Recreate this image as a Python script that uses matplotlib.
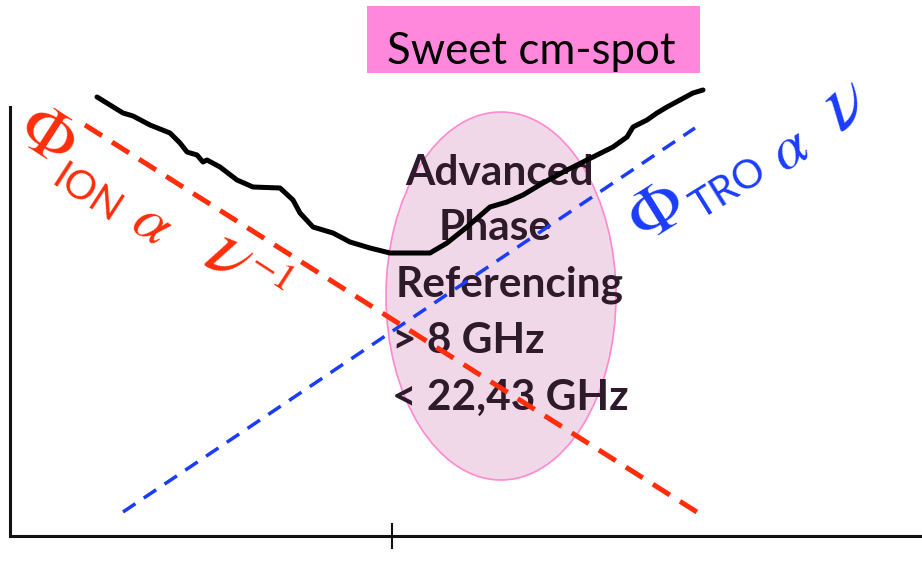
import matplotlib
matplotlib.use("Agg")
import matplotlib.pyplot as plt
from matplotlib.patches import Ellipse, Rectangle

plt.rcParams['mathtext.fontset'] = 'stix'

# ---- data (schematic, in arbitrary units) ----
curve_x = [87, 113, 123, 140, 160, 170, 177, 187, 193, 197, 210, 227, 243, 270, 283,
           290, 303, 323, 340, 360, 380, 420, 437, 457, 480, 497, 513, 533, 557, 577,
           587, 603, 617, 623, 637, 647, 657, 670, 683, 693]
curve_y = [439, 423, 420, 411, 403, 393, 384, 381, 374, 376, 369, 356, 349, 348, 336,
           323, 309, 303, 294, 288, 283, 283, 293, 309, 329, 334, 341, 353, 366, 376,
           381, 389, 399, 409, 416, 423, 429, 436, 443, 446]
ion_x = [75, 690]
ion_y = [411, 22]
tro_x = [113, 685]
tro_y = [24, 408]
tick_pos = [382]
spot_center = (491, 240)
spot_size = (230, 368)
spot_lines = ["Advanced", "Phase", "Referencing", "> 8 GHz", "< 22,43 GHz"]
title_text = "Sweet cm-spot"

fig = plt.figure(figsize=(9.22, 5.63), dpi=100)
ax = fig.add_axes([10/922, 27/563, 910/922, 536/563])
ax.set_xlim(0, 910)
ax.set_ylim(0, 536)

for s in ['top', 'right']:
    ax.spines[s].set_visible(False)
ax.spines['left'].set_bounds(0, 429)
ax.spines['left'].set_linewidth(2.2)
ax.spines['bottom'].set_linewidth(2.2)
ax.spines['left'].set_color('#111111')
ax.spines['bottom'].set_color('#111111')
ax.set_yticks([])
ax.set_xticks(tick_pos)
ax.set_xticklabels([''])
ax.tick_params(axis='x', direction='inout', length=19, width=1.5, color='#111111')

# sweet spot ellipse
ax.add_patch(Ellipse(spot_center, spot_size[0], spot_size[1], facecolor='#f0d8e8',
                     edgecolor='#ff88d0', lw=1.2, zorder=1))

# text inside ellipse (below the lines)
tc = '#2d1a2b'
pos = [(490, 351), (485, 296), (500, 239), (458, 183), (500, 126)]
for (x, y), t in zip(pos, spot_lines):
    ax.text(x, y, t, ha='center', va='baseline', fontsize=30.5, family='Lato',
            weight='bold', color=tc, zorder=2)

# lines
ax.plot(ion_x, ion_y, color='#ff2d0a', lw=3.6, dashes=(4, 2.4),
        dash_capstyle='butt', zorder=3, clip_on=False)
ax.plot(tro_x, tro_y, color='#1a3cff', lw=2.5, dashes=(4.3, 2.9),
        dash_capstyle='butt', zorder=3, clip_on=False)
ax.plot(curve_x, curve_y, color='black', lw=3.6, solid_joinstyle='round',
        solid_capstyle='round', zorder=4, clip_on=False)

# title box
ax.add_patch(Rectangle((357, 463), 333, 67, facecolor='#ff88dd', edgecolor='none',
                       zorder=2, clip_on=False))
ax.text(521, 472, title_text, ha='center', va='baseline', fontsize=31.5,
        family='Lato', color='black', zorder=6)

# red label (ionosphere)
red = '#ff2d0a'
rot = -33
ax.text(37, 400, r'$\Phi$', fontsize=52, color=red, rotation=rot,
        ha='center', va='center', rotation_mode='anchor', zorder=6)
ax.text(77, 342, 'ION', fontsize=29, family='Lato', color=red, rotation=rot,
        ha='center', va='center', rotation_mode='anchor', zorder=6)
ax.text(143, 313, r'$\alpha$', fontsize=44, color=red, rotation=rot,
        ha='center', va='center', rotation_mode='anchor', zorder=6)
ax.text(220, 281, r'$\nu$', fontsize=58, color=red, rotation=rot,
        ha='center', va='center', rotation_mode='anchor', zorder=6)
ax.text(262, 266, r'$-1$', fontsize=28, color=red, rotation=rot,
        ha='center', va='center', rotation_mode='anchor', zorder=6)

# blue label (troposphere)
blue = '#1a3cff'
rot = 32
ax.text(647, 323, r'$\Phi$', fontsize=52, color=blue, rotation=rot,
        ha='center', va='center', rotation_mode='anchor', zorder=6)
ax.text(719, 347, 'TRO', fontsize=29, family='Lato', color=blue, rotation=rot,
        ha='center', va='center', rotation_mode='anchor', zorder=6)
ax.text(780, 387, r'$\alpha$', fontsize=44, color=blue, rotation=rot,
        ha='center', va='center', rotation_mode='anchor', zorder=6)
ax.text(834, 433, r'$\nu$', fontsize=58, color=blue, rotation=rot,
        ha='center', va='center', rotation_mode='anchor', zorder=6)

fig.savefig('out.png', dpi=100)
